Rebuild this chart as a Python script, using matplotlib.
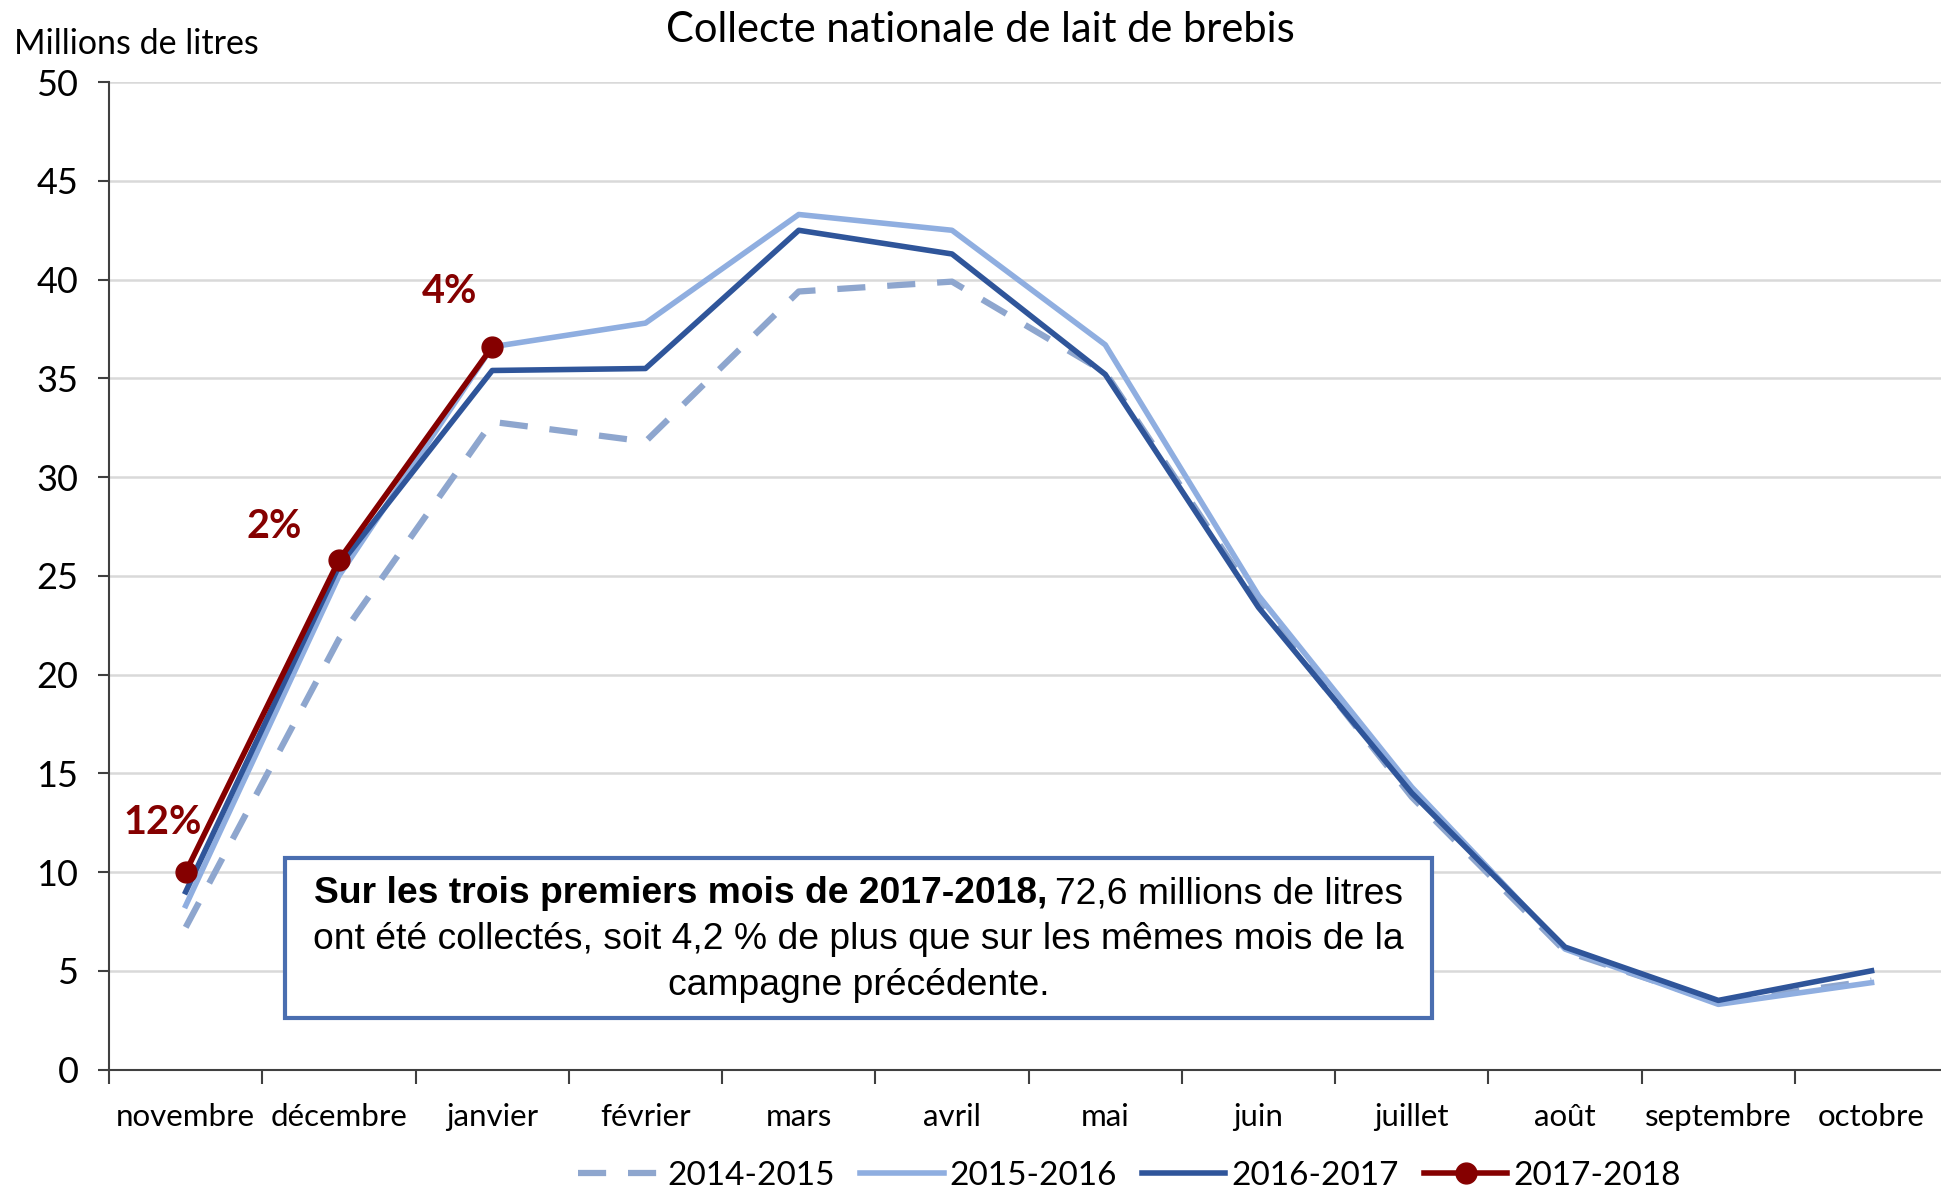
import numpy as np
from matplotlib import pyplot as plt

months = ['novembre', 'décembre', 'janvier', 'février', 'mars', 'avril',
          'mai', 'juin', 'juillet', 'août', 'septembre', 'octobre']
c1415 = [7.2, 21.8, 32.8, 31.8, 39.4, 39.9, 35.3, 23.6, 13.8, 6.0, 3.4, 4.5]
c1516 = [8.3, 25.0, 36.6, 37.8, 43.3, 42.5, 36.7, 24.0, 14.3, 6.1, 3.3, 4.4]
c1617 = [9.0, 25.5, 35.4, 35.5, 42.5, 41.3, 35.2, 23.4, 14.0, 6.2, 3.5, 5.0]
c1718 = [10.0, 25.8, 36.6]
pct_labels = ['12%', '2%', '4%']

col_dash = '#8EA6CE'
col_light = '#8FAEE0'
col_dark = '#2F559A'
col_red = '#850000'

plt.rcParams['font.family'] = ['Lato', 'DejaVu Sans']

fig = plt.figure(figsize=(19.41, 11.91), dpi=100)
ax = fig.add_axes([0.0562, 0.102, 0.9475, 0.829])

x = np.arange(len(months))
ax.plot(x, c1415, color=col_dash, lw=4.5, ls=(0, (4.5, 3.5)), label='2014-2015')
ax.plot(x, c1516, color=col_light, lw=4, label='2015-2016')
ax.plot(x, c1617, color=col_dark, lw=4, label='2016-2017')
ax.plot(x[:len(c1718)], c1718, color=col_red, lw=4, marker='o', ms=15,
        label='2017-2018')

# pourcentages d'evolution
offs = [(-0.15, 2.5), (-0.42, 1.7), (-0.28, 2.8)]
for i, lab in enumerate(pct_labels):
    ax.text(x[i] + offs[i][0], c1718[i] + offs[i][1], lab, color=col_red,
            fontsize=28.5, fontweight='bold', ha='center', va='center')

ax.set_xlim(-0.5, 11.5)
ax.set_ylim(0, 50)
ax.set_yticks(np.arange(0, 51, 5))
ax.tick_params(axis='y', labelsize=26, length=8, width=1.5, color='#404040', pad=14)
ax.set_xticks(x)
ax.set_xticklabels(months)
ax.set_xticks(np.arange(-0.5, 12, 1), minor=True)
ax.tick_params(axis='x', which='major', length=0, labelsize=22.5, pad=24)
ax.tick_params(axis='x', which='minor', length=10, width=1.5, color='#404040')
ax.grid(axis='y', color='#D9D9D9', lw=1.8)
ax.set_axisbelow(True)
for s in ['top', 'right']:
    ax.spines[s].set_visible(False)
for s in ['left', 'bottom']:
    ax.spines[s].set_color('#404040')
    ax.spines[s].set_linewidth(1.5)

fig.text(0.505, 0.975, 'Collecte nationale de lait de brebis', fontsize=30,
         ha='center', va='center')
fig.text(0.007, 0.963, 'Millions de litres', fontsize=24.5, ha='left', va='center')

# encadre
box = plt.Rectangle((0.1467, 0.1455), 0.5912, 0.1341, transform=fig.transFigure,
                    fill=True, facecolor='white', edgecolor='#4A6EB0', lw=3,
                    zorder=5)
fig.add_artist(box)
bfont = ['Liberation Sans', 'DejaVu Sans']
t1 = fig.text(0.1617, 0.2495, 'Sur les trois premiers mois de 2017-2018,', fontsize=26.8,
              fontweight='bold', family=bfont, ha='left', va='center', zorder=6)
fig.canvas.draw()
bb = t1.get_window_extent().transformed(fig.transFigure.inverted())
fig.text(bb.x1 + 0.004, 0.2495, '72,6 millions de litres', fontsize=26.8, family=bfont,
         ha='left', va='center', zorder=6)
fig.text(0.4423, 0.211, 'ont été collectés, soit 4,2 % de plus que sur les mêmes mois de la',
         fontsize=26.8, family=bfont, ha='center', va='center', zorder=6)
fig.text(0.4423, 0.1726, 'campagne précédente.', fontsize=26.8, family=bfont,
         ha='center', va='center', zorder=6)

handles, labels = ax.get_legend_handles_labels()
fig.legend(handles, labels, loc='center', bbox_to_anchor=(0.582, 0.0125), ncol=4,
           frameon=False, fontsize=24, handlelength=2.5, handletextpad=0.18,
           columnspacing=0.75, borderpad=0.1)

fig.savefig('out.png', dpi=100)
